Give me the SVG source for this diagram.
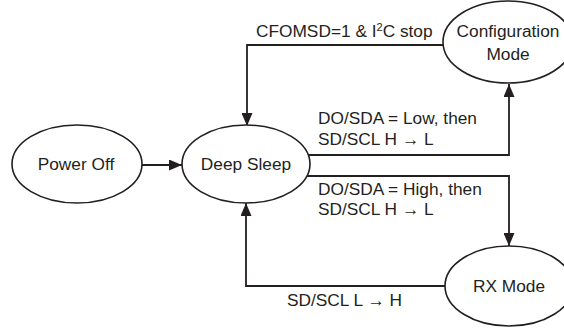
<svg xmlns="http://www.w3.org/2000/svg" width="564" height="328" viewBox="0 0 564 328">
<defs>
<marker id="arr" markerWidth="13" markerHeight="11" refX="13" refY="5.5" orient="auto" markerUnits="userSpaceOnUse">
<path d="M0,0 L13,5.5 L0,11 Z" fill="#231f20"/>
</marker>
<style>
.n{fill:#fff;stroke:#231f20;stroke-width:1.6}
.c{fill:none;stroke:#231f20;stroke-width:1.8;marker-end:url(#arr)}
text{font-family:"Liberation Sans",Arial,sans-serif;font-size:17.3px;fill:#231f20}
.m{text-anchor:middle}
</style>
</defs>
<rect width="564" height="328" fill="#fff"/>
<g id="connectors">
<path class="c" d="M142,165 L182,165"/>
<path class="c" d="M443,45 L247,45 L247,126"/>
<path class="c" d="M307,155 L509,155 L509,84"/>
<path class="c" d="M307,176 L509,176 L509,246"/>
<path class="c" d="M445,286 L246,286 L246,203"/>
</g>
<g id="power-off"><ellipse class="n" cx="77" cy="164" rx="65" ry="39"/><text class="m" x="76" y="170">Power Off</text></g>
<g id="deep-sleep"><ellipse class="n" cx="246" cy="164" rx="64" ry="39"/><text class="m" x="246" y="170">Deep Sleep</text></g>
<g id="config-mode"><ellipse class="n" cx="508" cy="42" rx="65" ry="41"/><text class="m" x="508" y="37">Configuration</text><text class="m" x="508" y="60">Mode</text></g>
<g id="rx-mode"><ellipse class="n" cx="509" cy="286" rx="64" ry="40"/><text class="m" x="509" y="292">RX Mode</text></g>
<g id="labels">
<text x="256" y="37">CFOMSD=1 &amp; I<tspan dy="-6.5" font-size="11">2</tspan><tspan dy="6.5">C stop</tspan></text>
<text x="318" y="124">DO/SDA = Low, then</text>
<text x="318" y="145">SD/SCL H → L</text>
<text x="318" y="195">DO/SDA = High, then</text>
<text x="318" y="215">SD/SCL H → L</text>
<text x="287" y="306">SD/SCL L → H</text>
</g>
</svg>
